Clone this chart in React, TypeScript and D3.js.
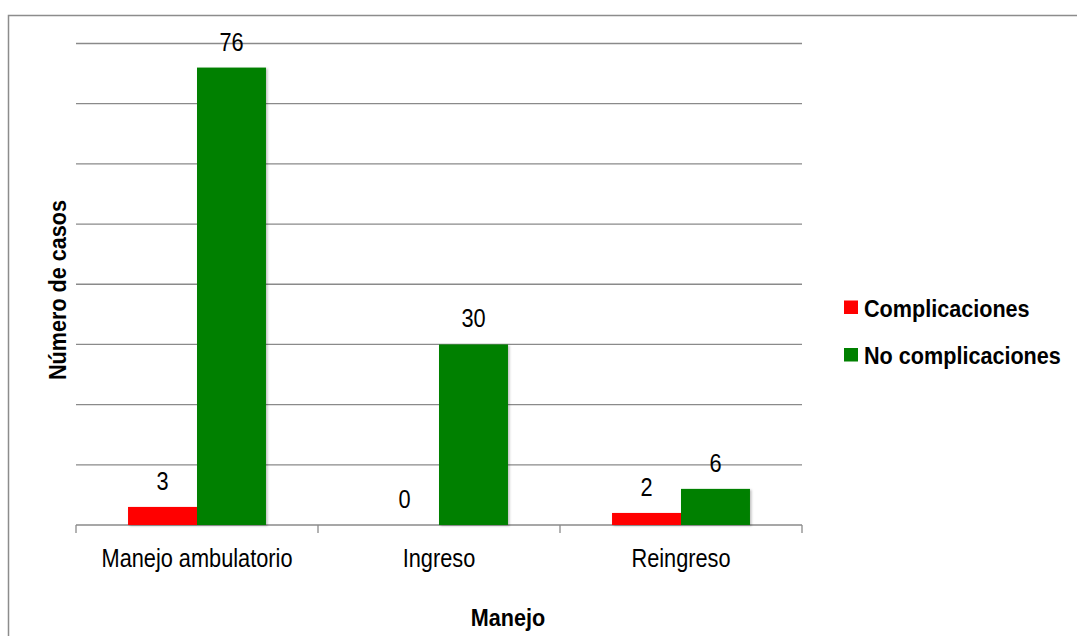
import React, { useEffect, useRef } from 'react';
import * as d3 from 'd3';

const categories = ['Manejo ambulatorio', 'Ingreso', 'Reingreso'];
const seriesNames = ['Complicaciones', 'No complicaciones'];
const complicaciones = [3, 0, 2];
const noComplicaciones = [76, 30, 6];
const seriesColors = ['#ff0000', '#008000'];
const yTicks = [0, 10, 20, 30, 40, 50, 60, 70, 80];

const FONT = '"Liberation Sans", Arial, sans-serif';

// narrow-looking text: the original uses Arial Narrow, so squeeze Liberation Sans
function addText(parent: any, x: number, y: number, txt: string, opts: any = {}) {
  const { size = 25, bold = false, anchor = 'middle', rotate = 0, sx = 0.87 } = opts;
  const g = parent.append('g')
    .attr('transform', `translate(${x}, ${y}) rotate(${rotate}) scale(${sx}, 1)`);
  g.append('text')
    .attr('text-anchor', anchor)
    .style('font-family', FONT)
    .style('font-size', `${size}px`)
    .style('font-weight', bold ? 'bold' : 'normal')
    .attr('fill', '#000')
    .text(txt);
  return g;
}

export default function App() {
  const ref = useRef<SVGSVGElement>(null);

  useEffect(() => {
    const W = 1077;
    const H = 636;
    const margin = { top: 43.5, right: 275, bottom: 111, left: 76 };
    const width = W - margin.left - margin.right;
    const height = H - margin.top - margin.bottom;

    const root = d3.select(ref.current);
    root.selectAll('*').remove();

    const defs = root.append('defs');
    const f = defs.append('filter').attr('id', 'shadow').attr('x', '-10%').attr('y', '-10%').attr('width', '130%').attr('height', '130%');
    f.append('feDropShadow').attr('dx', 1.5).attr('dy', 1).attr('stdDeviation', 1.2).attr('flood-color', '#000').attr('flood-opacity', 0.25);

    // outer frame
    root.append('rect')
      .attr('x', 8.5).attr('y', 15.5)
      .attr('width', W).attr('height', H)
      .attr('fill', 'none').attr('stroke', '#8c8c8c').attr('stroke-width', 1.5);

    const svg = root.append('g').attr('transform', `translate(${margin.left}, ${margin.top})`);

    const x0 = d3.scaleBand().domain(categories).range([0, width]).paddingInner(0).paddingOuter(0);
    const groupW = x0.bandwidth() * 0.57;
    const x1 = d3.scaleBand().domain(seriesNames).range([0, groupW]).padding(0);
    const y = d3.scaleLinear().domain([0, 80]).range([height, 0]);

    // gridlines
    svg.selectAll('line.grid')
      .data(yTicks.slice(1))
      .enter()
      .append('line')
      .attr('class', 'grid')
      .attr('x1', 0).attr('x2', width)
      .attr('y1', (d) => y(d)).attr('y2', (d) => y(d))
      .attr('stroke', '#8a8a8a').attr('stroke-width', 1.3);

    // x axis
    svg.append('line')
      .attr('x1', 0).attr('x2', width)
      .attr('y1', height).attr('y2', height)
      .attr('stroke', '#8a8a8a').attr('stroke-width', 1.3);
    const boundaries = categories.map((c) => x0(c) as number).concat([width]);
    svg.selectAll('line.tick-b')
      .data(boundaries)
      .enter()
      .append('line')
      .attr('class', 'tick-b')
      .attr('x1', (d) => d).attr('x2', (d) => d)
      .attr('y1', height).attr('y2', height + 8)
      .attr('stroke', '#8a8a8a').attr('stroke-width', 1.3);

    categories.forEach((c) => {
      addText(svg, (x0(c) as number) + x0.bandwidth() / 2, height + 42, c);
    });

    const seriesData = [complicaciones, noComplicaciones];
    seriesNames.forEach((s, si) => {
      const vals = seriesData[si];
      const data = categories.map((c, i) => ({ c, v: vals[i] }));
      const bx = (d: { c: string }) => (x0(d.c) as number) + (x0.bandwidth() - groupW) / 2 + (x1(s) as number);

      svg.selectAll(`rect.s${si}`)
        .data(data.filter((d) => d.v > 0))
        .enter()
        .append('rect')
        .attr('class', `s${si}`)
        .attr('x', bx)
        .attr('y', (d) => y(d.v))
        .attr('width', x1.bandwidth())
        .attr('height', (d) => height - y(d.v))
        .attr('fill', seriesColors[si])
        .attr('filter', 'url(#shadow)');

      data.forEach((d) => {
        addText(svg, bx(d) + x1.bandwidth() / 2, y(d.v) - 17, String(d.v), { size: 25 });
      });
    });

    // y axis title
    addText(root, 66, 290, 'Número de casos', { size: 24, bold: true, rotate: -90, sx: 0.9 });

    // x axis title
    addText(root, 508, 626, 'Manejo', { size: 24, bold: true, sx: 0.9 });

    // legend
    const legend = root.append('g').attr('transform', 'translate(844, 300)');
    seriesNames.forEach((s, i) => {
      const g = legend.append('g').attr('transform', `translate(0, ${i * 47.5})`);
      g.append('rect').attr('x', 0).attr('y', 0.5).attr('width', 14).attr('height', 13.5).attr('fill', seriesColors[i]);
      addText(g, 20, 16.5, s, { size: 24, bold: true, anchor: 'start', sx: 0.9 });
    });
  }, []);

  return (
    <svg
      ref={ref}
      width={1077}
      height={636}
      style={{ position: 'absolute', left: 0, top: 0, background: '#fff' }}
    />
  );
}
